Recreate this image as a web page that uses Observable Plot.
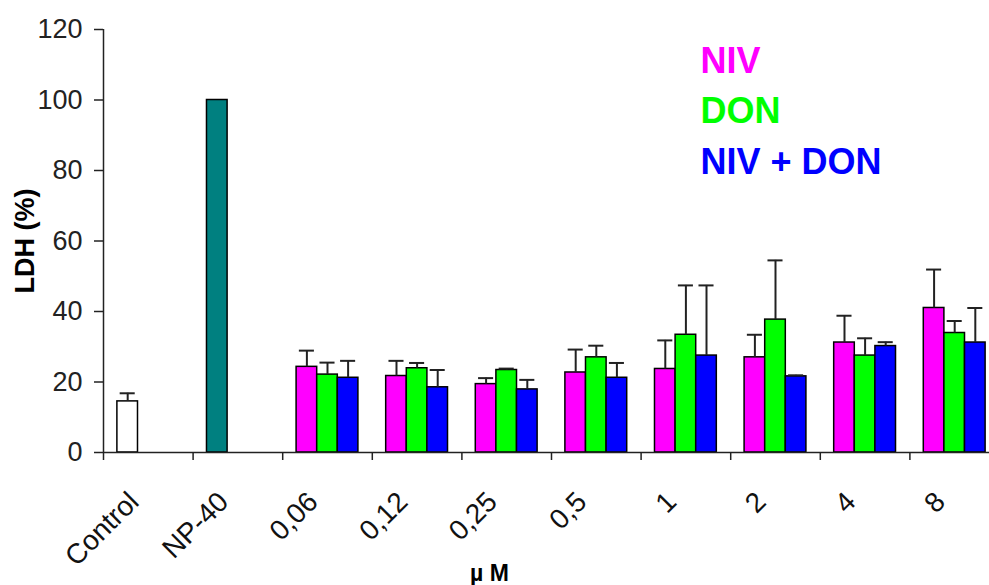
<!DOCTYPE html>
<html><head><meta charset="utf-8">
<script src="https://cdn.jsdelivr.net/npm/d3@7"></script>
<script src="https://cdn.jsdelivr.net/npm/@observablehq/plot@0.6"></script>
<style>
body{margin:0;background:#fff}
#chart{width:989px;height:585px;overflow:hidden}
</style>
</head><body><div id="chart"></div>
<script>
// ---- data ----
const categories = ["Control","NP-40","0,06","0,12","0,25","0,5","1","2","4","8"];
const seriesNames = ["NIV","DON","NIV + DON"];
const seriesColors = ["#ff00ff","#00ff00","#0000ff"];
const controlValue = 14.5, controlError = 2.3, controlColor = "#ffffff";
const np40Value = 100, np40Color = "#008080";
const nivValues  = [24.3, 21.7, 19.4, 22.7, 23.7, 27.0, 31.2, 41.0];
const nivErrors  = [ 4.6,  4.3,  1.7,  6.5,  8.1,  6.4,  7.6, 10.9];
const donValues  = [22.1, 23.9, 23.4, 27.0, 33.4, 37.7, 27.5, 33.9];
const donErrors  = [ 3.4,  1.5,  0.4,  3.3, 14.0, 16.8,  4.9,  3.4];
const combValues = [21.2, 18.5, 17.9, 21.2, 27.5, 21.6, 30.2, 31.2];
const combErrors = [ 4.8,  4.9,  2.7,  4.2, 19.9,  0.3,  1.1,  9.8];
const yTicks = [0, 20, 40, 60, 80, 100, 120];

// ---- build table ----
const slotW = 0.23, capHalf = 0.084;
const rows = [];
rows.push({idx: 0, slot: 0, value: controlValue, err: controlError, fill: controlColor});
rows.push({idx: 1, slot: 0, value: np40Value, err: 0, fill: np40Color});
const vals = [nivValues, donValues, combValues];
const errs = [nivErrors, donErrors, combErrors];
for (let s = 0; s < 3; s++) {
  for (let j = 0; j < vals[s].length; j++) {
    rows.push({idx: j + 2, slot: s, value: vals[s][j], err: errs[s][j], fill: seriesColors[s]});
  }
}
rows.forEach(r => { r.c = r.idx + 0.5 + (r.slot - 1) * slotW; r.x1 = r.c - slotW / 2; r.x2 = r.c + slotW / 2; r.top = r.value + r.err; });
const errRows = rows.filter(r => r.err > 0);

const font = "'Liberation Sans', Arial, Helvetica, sans-serif";
const axisColor = "#222";

const chart = Plot.plot({
  width: 989,
  height: 585,
  marginTop: 29,
  marginBottom: 133,
  marginLeft: 103,
  marginRight: 0,
  style: {fontFamily: font, background: "#fff", color: "#111", overflow: "hidden"},
  x: {type: "linear", domain: [0, categories.length], range: [103, 999]},
  y: {domain: [0, 120]},
  color: {type: "identity"},
  marks: [
    Plot.rectY(rows, {x1: "x1", x2: "x2", y1: 0, y2: "value", fill: "fill", stroke: "#000", strokeWidth: 1.5}),
    Plot.ruleX(errRows, {x: "c", y1: "value", y2: "top", stroke: axisColor, strokeWidth: 2}),
    Plot.ruleY(errRows, {y: "top", x1: d => d.c - capHalf, x2: d => d.c + capHalf, stroke: axisColor, strokeWidth: 2}),
    Plot.ruleX([0], {stroke: axisColor, strokeWidth: 1.5}),
    Plot.ruleY([0], {stroke: axisColor, strokeWidth: 1.5}),
    Plot.axisY({ticks: yTicks, tickSize: 9, tickPadding: 12, fontSize: 27, label: null, stroke: axisColor, strokeWidth: 1.5, fill: "#222"}),
    Plot.axisX({ticks: d3.range(categories.length + 1), tickSize: 8, tickFormat: () => "", label: null, stroke: axisColor, strokeWidth: 1.5}),
    Plot.text(categories, {x: (d, i) => i + 0.5, y: 0, rotate: -45, textAnchor: "end", lineAnchor: "top", dx: -22, dy: 37, fontSize: 28, fill: "#111"}),
    Plot.text(["LDH (%)"], {frameAnchor: "left", rotate: -90, dx: -70, lineAnchor: "bottom", textAnchor: "middle", fontSize: 27, fontWeight: "bold", fill: "#000"}),
    Plot.text(["µ M"], {frameAnchor: "bottom", dx: -57, dy: 128, lineAnchor: "bottom", textAnchor: "middle", fontSize: 23, fontWeight: "bold", fill: "#000"}),
    ...seriesNames.map((name, i) => Plot.text([name], {frameAnchor: "top-left", dx: 597, dy: 43 + 50.5 * i, lineAnchor: "bottom", textAnchor: "start", fontSize: 36, fontWeight: "bold", fill: seriesColors[i]}))
  ]
});
document.getElementById("chart").appendChild(chart);
</script>
</body></html>
